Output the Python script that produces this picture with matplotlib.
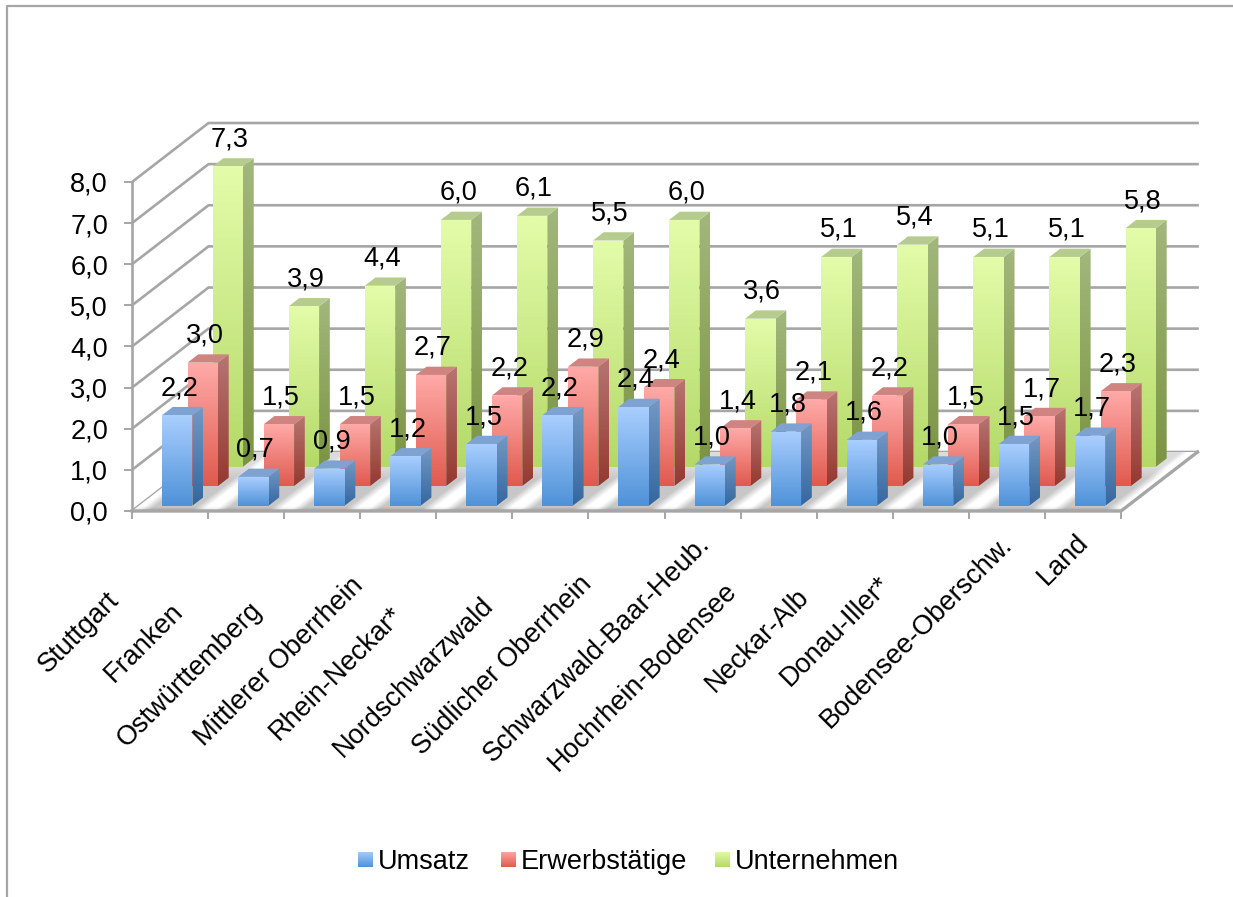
import numpy as np
import matplotlib
matplotlib.use("Agg")
import matplotlib.pyplot as plt
from matplotlib.patches import Polygon

CATEGORIES = ["Stuttgart", "Franken", "Ostwürttemberg", "Mittlerer Oberrhein", "Rhein-Neckar*",
              "Nordschwarzwald", "Südlicher Oberrhein", "Schwarzwald-Baar-Heub.", "Hochrhein-Bodensee",
              "Neckar-Alb", "Donau-Iller*", "Bodensee-Oberschw.", "Land"]
UMSATZ = [2.2, 0.7, 0.9, 1.2, 1.5, 2.2, 2.4, 1.0, 1.8, 1.6, 1.0, 1.5, 1.7]
ERWERB = [3.0, 1.5, 1.5, 2.7, 2.2, 2.9, 2.4, 1.4, 2.1, 2.2, 1.5, 1.7, 2.3]
UNTERNEHMEN = [7.3, 3.9, 4.4, 6.0, 6.1, 5.5, 6.0, 3.6, 5.1, 5.4, 5.1, 5.1, 5.8]
SERIES_NAMES = ["Umsatz", "Erwerbstätige", "Unternehmen"]
Y_TICKS = [0, 1, 2, 3, 4, 5, 6, 7, 8]

# picture geometry, in pixels
W, H = 1233, 897
X0, Y0 = 132, 511
CAT_W = 76.08
UNIT_H = 41.125
KX = 76.5 / CAT_W   # full depth of the floor, in data units
KY = 59 / UNIT_H
GAP, BAR_W, BAR_D = 0.304, 0.40, 0.14
DEPTHS = [0.09, 0.424, 0.751]
FONT = 19.5

GREY = "#a6a6a6"
# (front top, front bottom, side top, side bottom, top face)
COLORS = [
    ("#a9ceff", "#4f92d8", "#7398c4", "#34679f", "#7ea2d2"),
    ("#ffaaa8", "#e05a4e", "#b87472", "#94392f", "#cf8482"),
    ("#e3fca9", "#b4d968", "#a2b77c", "#7b9442", "#b6cc8e"),
]
# where the rotated labels sit, in pixels (they do not follow the categories evenly)
LABEL_CENTERS = [(79, 633), (144, 643), (190, 675), (279, 662), (336, 674), (414, 677), (502, 666),
                 (597, 649), (643, 677), (757, 640), (836, 631), (917, 632), (1063, 560)]


def px(x):
    return (x - X0) / CAT_W


def py(y):
    return (Y0 - y) / UNIT_H


def project(cat, v, d):
    return cat + d * KX, v + d * KY


def hex_rgb(c):
    return np.array(matplotlib.colors.to_rgb(c))


def gradient_poly(ax, points, top, bottom, zorder):
    points = np.array(points)
    grad = np.linspace(hex_rgb(top), hex_rgb(bottom), 64).reshape(64, 1, 3)
    extent = [points[:, 0].min(), points[:, 0].max(), points[:, 1].min(), points[:, 1].max()]
    im = ax.imshow(grad, extent=extent, aspect="auto", origin="upper", zorder=zorder, interpolation="bilinear")
    clip = Polygon(points, closed=True, transform=ax.transData, fc="none", ec="none")
    im.set_clip_path(clip)


def draw_bar(ax, cat, value, d, colors, zorder):
    x0 = cat + GAP
    x1 = x0 + BAR_W
    a = project(x0, 0, d)
    b = project(x1, 0, d)
    c = project(x1, value, d)
    e = project(x0, value, d)
    f = project(x1, 0, d + BAR_D)
    g = project(x1, value, d + BAR_D)
    h = project(x0, value, d + BAR_D)
    gradient_poly(ax, [b, f, g, c], colors[2], colors[3], zorder)
    ax.add_patch(Polygon([e, c, g, h], closed=True, fc=colors[4], ec="none", zorder=zorder))
    gradient_poly(ax, [a, b, c, e], colors[0], colors[1], zorder)


def draw_floor(ax):
    corners = [project(0, 0, 0), project(13, 0, 0), project(13, 0, 1), project(0, 0, 1)]
    xs = np.linspace(0, 13 + KX, 1400)
    ys = np.linspace(0, KY, 90)
    xx, yy = np.meshgrid(xs, ys)
    d = yy / KY
    u = xx - d * KX
    dist = np.abs((u % 1) - 0.5) * 2
    shade = 0.78 + 0.22 * np.clip((dist - 0.55) / 0.3, 0, 1)
    shade = shade - 0.12 * np.clip(1 - d / 0.07, 0, 1)
    shade = np.clip(shade + 0.08 * np.clip((d - 0.55) / 0.2, 0, 1), 0, 1)
    im = ax.imshow(shade, extent=[xs[0], xs[-1], ys[0], ys[-1]], origin="lower", aspect="auto",
                   cmap="gray", vmin=0, vmax=1, zorder=2, interpolation="bilinear")
    im.set_clip_path(Polygon(corners, closed=True, transform=ax.transData, fc="none", ec="none"))


def main():
    plt.rcParams["font.family"] = ["Liberation Sans", "DejaVu Sans"]
    fig = plt.figure(figsize=(W / 100, H / 100), dpi=100)
    ax = fig.add_axes([0, 0, 1, 1])
    ax.axis("off")

    # outer chart frame
    ax.plot([px(7), px(7), px(W)], [py(H), py(6.5), py(6.5)], color=GREY, lw=1.6, zorder=1)

    # grid on the side and back walls
    for t in Y_TICKS:
        xb, yb = project(0, t, 1)
        xe, ye = project(13, t, 1)
        ax.plot([0, xb, xe], [t, yb, ye], color=GREY, lw=1.9, zorder=1, solid_joinstyle="miter")
        ax.plot([px(X0 - 7), 0], [t, t], color=GREY, lw=1.4, zorder=1)
        ax.text(px(108), t - 3 / UNIT_H, f"{t},0", ha="right", va="center", fontsize=FONT, color="black")

    draw_floor(ax)
    ax.plot([0, 0], [0, 8], color=GREY, lw=1.9, zorder=3)
    fx, fy = project(13, 0, 1)
    ax.plot([0, 13, fx], [0, 0, fy], color=GREY, lw=2.4, zorder=3)
    for i in range(14):
        ax.plot([i, i], [0, py(Y0 + 7)], color=GREY, lw=1.4, zorder=3)

    # bars, back row first
    series = [UMSATZ, ERWERB, UNTERNEHMEN]
    for s in (2, 1, 0):
        for i, v in enumerate(series[s]):
            draw_bar(ax, i, v, DEPTHS[s], COLORS[s], zorder=4 + (2 - s))

    # value labels
    for s in range(3):
        for i, v in enumerate(series[s]):
            x, y = project(i + GAP + BAR_W / 2, v, DEPTHS[s])
            ax.text(x + 2 / CAT_W, y + 27 / UNIT_H, f"{v:.1f}".replace(".", ","), ha="center", va="center",
                    fontsize=FONT, color="black", zorder=10)

    for name, (cx, cy) in zip(CATEGORIES, LABEL_CENTERS):
        ax.text(px(cx), py(cy), name, rotation=45, ha="center", va="center", fontsize=FONT, color="black", zorder=10)

    # legend
    swatches = [358, 501, 715]
    text_x = [378, 521, 735]
    for s, name in enumerate(SERIES_NAMES):
        x0, x1 = px(swatches[s]), px(swatches[s] + 15)
        y0, y1 = py(867), py(852)
        gradient_poly(ax, [(x0, y0), (x1, y0), (x1, y1), (x0, y1)], COLORS[s][0], COLORS[s][1], 10)
        ax.text(px(text_x[s]), py(862), name, ha="left", va="center", fontsize=FONT, color="black", zorder=10)

    ax.set_xlim(px(0), px(W))
    ax.set_ylim(py(H), py(0))
    fig.savefig("out.png", dpi=100, facecolor="white")


if __name__ == "__main__":
    main()
